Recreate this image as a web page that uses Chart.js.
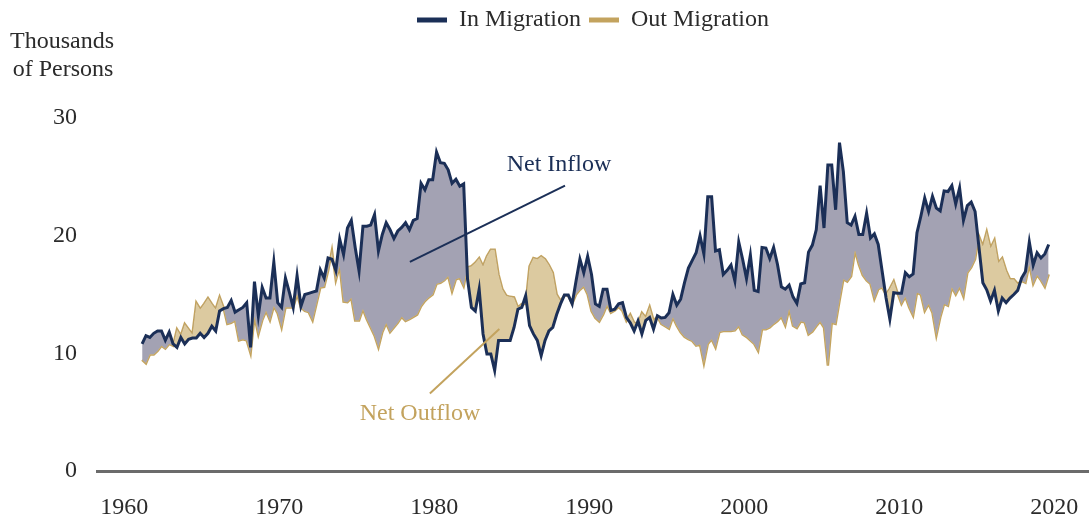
<!DOCTYPE html>
<html>
<head>
<meta charset="utf-8">
<script src="https://cdn.jsdelivr.net/npm/chart.js@4/dist/chart.umd.min.js"></script>
<style>
  html, body { margin: 0; padding: 0; background: #fff; }
  #wrap { width: 1089px; height: 520px; position: relative; }
</style>
</head>
<body>
<div id="wrap"><canvas id="chart"></canvas></div>
<script>
// quarterly gross migration, thousands of persons
const inMigration = [
  10.8, 11.5, 11.35, 11.7, 11.9, 11.9, 11.1, 11.8, 10.8, 10.5,
  11.35, 10.8, 11.2, 11.3, 11.3, 11.7, 11.35, 11.7, 12.3, 11.9,
  13.6, 13.8, 13.9, 14.5, 13.5, 13.7, 13.9, 14.3, 10.5, 16.1,
  13.2, 15.6, 14.7, 14.7, 17.75, 14.3, 13.9, 16.4, 15.2, 13.9,
  16.6, 14.0, 15.0, 15.1, 15.2, 15.3, 17.1, 16.4, 18.1, 18.0,
  17.05, 19.7, 18.4, 20.65, 21.3, 19.0, 17.0, 20.8, 20.8, 20.9,
  21.8, 18.7, 20.1, 21.1, 20.5, 19.75, 20.4, 20.7, 21.1, 20.5,
  21.3, 21.45, 24.45, 23.9, 24.75, 24.75, 27.1, 26.2, 26.15, 25.6,
  24.45, 24.8, 24.2, 24.4, 16.3, 13.9, 13.6, 15.45, 11.65, 9.95,
  9.95, 8.55, 11.1, 11.1, 11.1, 11.1, 12.2, 13.75, 13.9, 14.9,
  12.35, 11.65, 11.1, 9.8, 11.1, 11.9, 12.2, 13.3, 14.2, 14.95,
  14.95, 14.2, 16.15, 18.0, 16.85, 18.25, 16.7, 14.2, 14.0, 15.45,
  15.45, 13.65, 13.75, 14.2, 14.3, 13.05, 12.6, 11.9, 12.75, 11.65,
  12.8, 13.05, 12.05, 13.2, 13.0, 13.05, 13.45, 15.0, 14.1, 14.6,
  16.0, 17.25, 17.9, 18.55, 20.0, 18.45, 23.3, 23.3, 18.7, 18.8,
  16.7, 17.05, 17.5, 16.15, 19.45, 18.0, 16.35, 18.35, 15.35, 15.25,
  19.0, 18.95, 18.05, 19.0, 17.55, 15.65, 15.45, 15.8, 14.8, 14.25,
  15.9, 16.0, 18.6, 19.2, 20.5, 24.25, 20.65, 26.0, 26.0, 22.2,
  27.9, 25.45, 21.1, 20.9, 21.65, 20.1, 20.1, 21.9, 19.8, 20.15,
  19.25, 17.0, 14.75, 12.9, 15.15, 15.1, 15.1, 16.85, 16.5, 16.75,
  20.25, 21.65, 23.2, 22.05, 23.35, 22.35, 22.1, 23.8, 23.75, 24.25,
  22.7, 24.05, 21.3, 22.55, 22.85, 22.05, 19.0, 16.0, 15.4, 14.45,
  15.35, 13.6, 14.7, 14.3, 14.7, 15.0, 15.35, 16.4, 16.95, 19.45,
  17.5, 18.55, 18.1, 18.45, 19.25
];
const outMigration = [
  9.45, 9.15, 9.9, 9.9, 10.2, 10.65, 10.4, 10.8, 10.65, 12.05,
  11.5, 12.5, 12.05, 11.6, 14.3, 13.75, 14.2, 14.7, 14.2, 13.75,
  14.8, 13.9, 12.5, 12.6, 12.8, 11.1, 11.2, 11.1, 10.0, 13.1,
  11.6, 12.8, 13.6, 12.8, 14.0, 13.4, 12.2, 13.9, 13.9, 13.9,
  15.0, 13.9, 13.6, 13.5, 12.8, 14.2, 15.6, 15.65, 17.0, 18.75,
  16.2, 17.4, 14.4, 14.35, 14.7, 12.8, 12.8, 13.75, 12.9, 12.2,
  11.5, 10.5, 11.8, 12.55, 11.8, 12.2, 12.6, 13.1, 12.75, 12.9,
  13.1, 13.3, 14.0, 14.45, 14.75, 15.0, 15.9, 16.0, 16.2, 16.55,
  15.25, 16.3, 16.4, 15.7, 17.3, 17.4, 17.7, 18.1, 17.4, 18.25,
  18.8, 18.8, 16.7, 15.45, 14.9, 14.8, 14.75, 13.9, 14.2, 14.2,
  17.4, 18.1, 18.0, 18.25, 18.0, 17.5, 16.85, 15.0, 14.45, 14.95,
  14.9, 14.2, 15.0, 15.4, 15.7, 15.0, 13.6, 13.0, 12.7, 13.3,
  14.1, 13.45, 13.65, 13.95, 13.6, 12.75, 13.3, 12.6, 12.5, 13.45,
  13.05, 13.95, 12.8, 13.1, 12.5, 12.3, 12.1, 13.05, 12.35, 11.8,
  11.4, 11.2, 11.05, 10.65, 10.75, 9.15, 10.8, 11.2, 10.5, 11.8,
  11.9, 11.9, 11.9, 11.95, 12.35, 11.6, 11.4, 11.1, 10.8, 10.2,
  12.05, 12.05, 12.2, 12.5, 12.75, 13.1, 12.35, 13.75, 12.35, 12.15,
  12.7, 12.65, 11.6, 11.85, 12.3, 12.7, 12.2, 8.95, 12.6, 12.5,
  14.45, 16.3, 16.1, 16.55, 18.75, 17.55, 16.65, 16.2, 15.9, 14.6,
  15.45, 15.6, 15.0, 15.5, 16.15, 15.1, 14.2, 14.8, 13.9, 13.2,
  15.15, 15.0, 13.6, 14.2, 13.45, 11.5, 13.05, 14.2, 14.05, 15.6,
  15.0, 15.65, 14.8, 16.85, 17.3, 18.0, 19.95, 19.1, 20.35, 18.95,
  19.65, 17.7, 18.1, 17.05, 16.3, 16.3, 15.9, 16.15, 16.0, 17.55,
  15.9, 16.65, 16.2, 15.65, 16.7
];
// quarter positions as decimal years, first quarter of 1961 onward
const firstQuarter = 1961.15;
const quarterDates = inMigration.map((_, i) => firstQuarter + i / 4);
const yearTicks = [1960, 1970, 1980, 1990, 2000, 2010, 2020];
const valueTicks = [0, 10, 20, 30];

const NAVY = '#1b2f57';
const GOLD = '#c3a35e';
const FONT_SIZE = 24;

Chart.defaults.font.family = "'Liberation Serif', 'DejaVu Serif', serif";
Chart.defaults.color = '#2b2b2b';

// push the plot below the legend and the unit label
const legendSpacer = {
  id: 'legendSpacer',
  afterInit(chart) {
    const fit = chart.legend.fit;
    chart.legend.fit = function() {
      fit.call(this);
      this.height += 76;
    };
  }
};

// unit label and the two call-outs
const notes = {
  id: 'notes',
  afterDraw(chart) {
    const {ctx, scales: {x, y}} = chart;
    ctx.save();
    ctx.font = FONT_SIZE + "px 'Liberation Serif'";
    ctx.textAlign = 'center';
    ctx.textBaseline = 'middle';
    ctx.fillStyle = '#2b2b2b';
    ctx.fillText('Thousands', 62, 42);
    ctx.fillText('of Persons', 63, 70);

    ctx.lineWidth = 2;
    ctx.strokeStyle = NAVY;
    ctx.beginPath();
    ctx.moveTo(x.getPixelForValue(1978.43), y.getPixelForValue(17.77));
    ctx.lineTo(x.getPixelForValue(1988.44), y.getPixelForValue(24.25));
    ctx.stroke();
    ctx.fillStyle = NAVY;
    ctx.fillText('Net Inflow', x.getPixelForValue(1988.05), y.getPixelForValue(25.99));

    ctx.strokeStyle = GOLD;
    ctx.beginPath();
    ctx.moveTo(x.getPixelForValue(1979.72), y.getPixelForValue(6.59));
    ctx.lineTo(x.getPixelForValue(1984.2), y.getPixelForValue(12.06));
    ctx.stroke();
    ctx.fillStyle = GOLD;
    ctx.fillText('Net Outflow', x.getPixelForValue(1979.08), y.getPixelForValue(4.9));
    ctx.restore();
  }
};

const ctx = document.getElementById('chart').getContext('2d');
new Chart(ctx, {
  type: 'line',
  data: {
    datasets: [{
      label: 'In Migration',
      data: quarterDates.map((d, i) => ({x: d, y: inMigration[i]})),
      borderColor: NAVY,
      backgroundColor: NAVY,
      borderWidth: 3,
      pointRadius: 0,
      tension: 0,
      fill: {target: 1, above: '#a3a2b3', below: '#dccaa0'}
    }, {
      label: 'Out Migration',
      data: quarterDates.map((d, i) => ({x: d, y: outMigration[i]})),
      borderColor: GOLD,
      backgroundColor: GOLD,
      borderWidth: 2.5,
      pointRadius: 0,
      tension: 0,
      fill: false
    }]
  },
  options: {
    responsive: true,
    maintainAspectRatio: false,
    animation: false,
    layout: {padding: {left: 10, right: 0, top: 0, bottom: 2}},
    plugins: {
      legend: {
        position: 'top',
        fullSize: false,
        labels: {
          font: {size: FONT_SIZE},
          color: '#2b2b2b',
          boxWidth: 30,
          boxHeight: 5,
          padding: 8,
          generateLabels: chart => Chart.defaults.plugins.legend.labels.generateLabels(chart)
            .map(l => Object.assign(l, {lineWidth: 0}))
        }
      },
      tooltip: {enabled: false}
    },
    scales: {
      x: {
        type: 'linear',
        min: 1958.24,
        max: 2022.25,
        grid: {display: false, drawTicks: false},
        border: {display: true, color: '#6b6b6b', width: 3},
        ticks: {font: {size: FONT_SIZE}, padding: 22, color: '#2b2b2b', callback: v => String(v)},
        afterBuildTicks: axis => { axis.ticks = yearTicks.map(v => ({value: v})); },
        afterFit: axis => { axis.height = 47; axis.paddingLeft = 0; axis.paddingRight = 0; }
      },
      y: {
        min: 0,
        max: 30,
        grid: {display: false, drawTicks: false},
        border: {display: false},
        ticks: {font: {size: FONT_SIZE}, padding: 20, color: '#2b2b2b'},
        afterBuildTicks: axis => { axis.ticks = valueTicks.map(v => ({value: v})); },
        afterFit: axis => { axis.width = 87; }
      }
    }
  },
  plugins: [legendSpacer, notes]
});
</script>
</body>
</html>
